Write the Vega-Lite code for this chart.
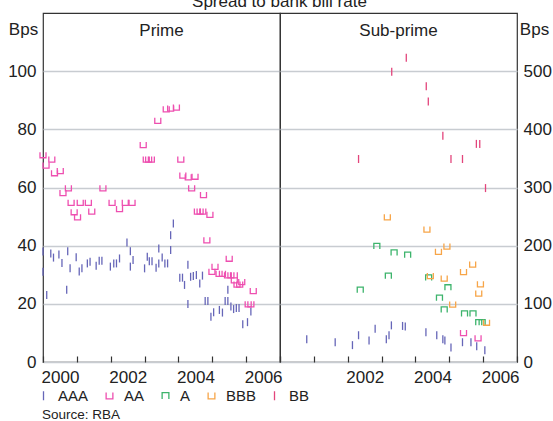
{
 "$schema": "https://vega.github.io/schema/vega-lite/v6.json",
 "padding": {"left": 7, "top": -7, "right": 1, "bottom": 0},
 "config": {
  "font": "Liberation Sans",
  "view": {"stroke": "#333333", "strokeWidth": 1.2},
  "axis": {"labelFont": "Liberation Sans", "labelFontSize": 17, "labelColor": "#222222", "titleFont": "Liberation Sans", "titleFontSize": 17, "titleFontWeight": "normal", "titleColor": "#222222", "gridColor": "#c8ccd1", "gridWidth": 1.5, "domain": false},
  "title": {"font": "Liberation Sans", "fontSize": 17, "fontWeight": "normal", "color": "#222222"},
  "legend": {"orient": "bottom", "direction": "horizontal", "title": null, "labelFont": "Liberation Sans", "labelFontSize": 15, "labelColor": "#222222", "symbolSize": 81, "symbolStrokeWidth": 1.3, "columnPadding": 14, "labelOffset": 7, "symbolOffset": -7, "offset": 2, "padding": 0},
  "concat": {"spacing": 0}
 },
 "title": {"text": "Source: RBA", "orient": "bottom", "anchor": "start", "frame": "bounds", "dx": 35, "fontSize": 13.5, "offset": 4},
 "vconcat": [{
  "title": {"text": "Spread to bank bill rate", "anchor": "middle", "frame": "bounds", "offset": 1},
  "spacing": 0,
  "bounds": "flush",
  "hconcat": [
   {
    "width": 237, "height": 349,
    "title": {"text": "Prime", "frame": "group", "anchor": "middle", "baseline": "alphabetic", "offset": 0, "dy": 40},
    "data": {"name": "prime"},
    "mark": {"type": "point", "filled": false, "strokeWidth": 1.3, "size": 64, "opacity": 1},
    "encoding": {
     "x": {"field": "t", "type": "quantitative", "scale": {"domain": [2000, 2007], "nice": false, "zero": false},
       "axis": {"values": [2000, 2001, 2002, 2003, 2004, 2005, 2006, 2007], "tickSize": -6, "tickColor": "#333333", "tickWidth": 1.2, "labelPadding": 13, "labelOffset": 17, "labelFlush": false, "labelOverlap": false, "labelExpr": "datum.value % 2 == 0 && datum.value < 2007 ? format(datum.value, 'd') : ''", "grid": false, "title": null}},
     "y": {"field": "v", "type": "quantitative", "scale": {"domain": [0, 120], "nice": false},
       "axis": {"values": [0, 20, 40, 60, 80, 100], "ticks": false, "labelPadding": 7, "title": "Bps", "titleAngle": 0, "titleX": -20, "titleY": 21, "titleAlign": "center", "titleBaseline": "alphabetic", "grid": true}},
     "color": {"field": "r", "type": "nominal", "scale": {"domain": ["AAA", "AA", "A", "BBB", "BB"], "range": ["#6666b8", "#ee4fb0", "#3db46c", "#f7a548", "#e3457c"]}},
     "shape": {"field": "r", "type": "nominal", "scale": {"domain": ["AAA", "AA", "A", "BBB", "BB"], "range": ["M0,-1L0,1", "M-0.75,-0.7L-0.75,0.7L0.75,0.7L0.75,-0.7", "M-0.75,0.7L-0.75,-0.7L0.75,-0.7L0.75,0.7", "M-0.75,-0.7L-0.75,0.7L0.75,0.7L0.75,-0.7", "M0,-1L0,1"]}}
    }
   },
   {
    "width": 237, "height": 349,
    "title": {"text": "Sub-prime", "frame": "group", "anchor": "middle", "baseline": "alphabetic", "offset": 0, "dy": 40},
    "data": {"name": "subprime"},
    "mark": {"type": "point", "filled": false, "strokeWidth": 1.3, "size": 64, "opacity": 1},
    "encoding": {
     "x": {"field": "t", "type": "quantitative", "scale": {"domain": [2000, 2007], "nice": false, "zero": false},
       "axis": {"values": [2000, 2001, 2002, 2003, 2004, 2005, 2006, 2007], "tickSize": -6, "tickColor": "#333333", "tickWidth": 1.2, "labelPadding": 13, "labelOffset": 17, "labelFlush": false, "labelOverlap": false, "labelExpr": "datum.value % 2 == 0 && datum.value > 2000 && datum.value < 2007 ? format(datum.value, 'd') : ''", "grid": false, "title": null}},
     "y": {"field": "v", "type": "quantitative", "scale": {"domain": [0, 600], "nice": false},
       "axis": {"orient": "right", "values": [0, 100, 200, 300, 400, 500], "ticks": false, "labelPadding": 6, "title": "Bps", "titleAngle": 0, "titleX": 17, "titleY": 21, "titleAlign": "center", "titleBaseline": "alphabetic", "grid": true}},
     "color": {"field": "r", "type": "nominal", "scale": {"domain": ["AAA", "AA", "A", "BBB", "BB"], "range": ["#6666b8", "#ee4fb0", "#3db46c", "#f7a548", "#e3457c"]}},
     "shape": {"field": "r", "type": "nominal", "scale": {"domain": ["AAA", "AA", "A", "BBB", "BB"], "range": ["M0,-1L0,1", "M-0.75,-0.7L-0.75,0.7L0.75,0.7L0.75,-0.7", "M-0.75,0.7L-0.75,-0.7L0.75,-0.7L0.75,0.7", "M-0.75,-0.7L-0.75,0.7L0.75,0.7L0.75,-0.7", "M0,-1L0,1"]}}
    }
   }
  ]
 }],
 "datasets": {
  "prime": [
   {"r":"AAA","t":2000.0,"v":31},{"r":"AAA","t":2000.0,"v":38},{"r":"AAA","t":2000.11,"v":23},{"r":"AAA","t":2000.23,"v":37.3},{"r":"AAA","t":2000.31,"v":35.9},{"r":"AAA","t":2000.47,"v":37},{"r":"AAA","t":2000.56,"v":34},{"r":"AAA","t":2000.7,"v":24.8},{"r":"AAA","t":2000.73,"v":38.1},{"r":"AAA","t":2000.8,"v":32.2},{"r":"AAA","t":2000.98,"v":36},
   {"r":"AAA","t":2001.07,"v":31.1},{"r":"AAA","t":2001.15,"v":32.2},{"r":"AAA","t":2001.31,"v":33.9},{"r":"AAA","t":2001.39,"v":34.5},{"r":"AAA","t":2001.57,"v":33.1},{"r":"AAA","t":2001.66,"v":34.8},{"r":"AAA","t":2001.74,"v":34.8},{"r":"AAA","t":2001.99,"v":32.8},
   {"r":"AAA","t":2002.09,"v":33.9},{"r":"AAA","t":2002.17,"v":33.9},{"r":"AAA","t":2002.26,"v":35.6},{"r":"AAA","t":2002.48,"v":41.1},{"r":"AAA","t":2002.58,"v":38.1},{"r":"AAA","t":2002.58,"v":32.8},{"r":"AAA","t":2002.66,"v":35.1},
   {"r":"AAA","t":2003.0,"v":32.2},{"r":"AAA","t":2003.08,"v":36.2},{"r":"AAA","t":2003.14,"v":34.6},{"r":"AAA","t":2003.22,"v":34.6},{"r":"AAA","t":2003.34,"v":32.4},{"r":"AAA","t":2003.42,"v":33.9},{"r":"AAA","t":2003.42,"v":39},{"r":"AAA","t":2003.52,"v":35.9},{"r":"AAA","t":2003.6,"v":33.9},{"r":"AAA","t":2003.68,"v":33.9},{"r":"AAA","t":2003.77,"v":38.5},{"r":"AAA","t":2003.77,"v":43.6},{"r":"AAA","t":2003.85,"v":47.6},
   {"r":"AAA","t":2004.04,"v":29},{"r":"AAA","t":2004.12,"v":29},{"r":"AAA","t":2004.18,"v":26.5},{"r":"AAA","t":2004.28,"v":33.4},{"r":"AAA","t":2004.28,"v":19.9},{"r":"AAA","t":2004.36,"v":29.3},{"r":"AAA","t":2004.44,"v":29.6},{"r":"AAA","t":2004.53,"v":29.9},{"r":"AAA","t":2004.63,"v":27},{"r":"AAA","t":2004.71,"v":29.7},{"r":"AAA","t":2004.79,"v":21},{"r":"AAA","t":2004.87,"v":21},{"r":"AAA","t":2004.96,"v":15.6},
   {"r":"AAA","t":2005.04,"v":17.1},{"r":"AAA","t":2005.21,"v":17.9},{"r":"AAA","t":2005.3,"v":17},{"r":"AAA","t":2005.38,"v":21},{"r":"AAA","t":2005.46,"v":21},{"r":"AAA","t":2005.46,"v":24.8},{"r":"AAA","t":2005.55,"v":19.1},{"r":"AAA","t":2005.63,"v":18.2},{"r":"AAA","t":2005.71,"v":18.6},{"r":"AAA","t":2005.79,"v":18.6},{"r":"AAA","t":2005.9,"v":13},{"r":"AAA","t":2006.04,"v":13.7},{"r":"AAA","t":2006.14,"v":17.4},
   {"r":"AA","t":2000.0,"v":71.2},{"r":"AA","t":2000.09,"v":67.6},{"r":"AA","t":2000.26,"v":69.7},{"r":"AA","t":2000.34,"v":65},{"r":"AA","t":2000.51,"v":65.7},{"r":"AA","t":2000.59,"v":58.2},{"r":"AA","t":2000.75,"v":59.8},{"r":"AA","t":2000.83,"v":54.8},{"r":"AA","t":2000.92,"v":51.6},
   {"r":"AA","t":2001.02,"v":49.8},{"r":"AA","t":2001.1,"v":54.8},{"r":"AA","t":2001.34,"v":54.8},{"r":"AA","t":2001.44,"v":51.8},{"r":"AA","t":2001.77,"v":59.8},
   {"r":"AA","t":2002.04,"v":54.8},{"r":"AA","t":2002.26,"v":52.7},{"r":"AA","t":2002.43,"v":54.8},{"r":"AA","t":2002.63,"v":54.8},{"r":"AA","t":2002.96,"v":74.7},
   {"r":"AA","t":2003.05,"v":69.7},{"r":"AA","t":2003.12,"v":69.7},{"r":"AA","t":2003.2,"v":69.7},{"r":"AA","t":2003.39,"v":83},{"r":"AA","t":2003.64,"v":87},{"r":"AA","t":2003.77,"v":87.2},{"r":"AA","t":2003.94,"v":87.6},
   {"r":"AA","t":2004.07,"v":69.7},{"r":"AA","t":2004.13,"v":64.2},{"r":"AA","t":2004.29,"v":63.6},{"r":"AA","t":2004.49,"v":63.8},{"r":"AA","t":2004.39,"v":59.8},{"r":"AA","t":2004.74,"v":57.5},{"r":"AA","t":2004.56,"v":51.8},{"r":"AA","t":2004.64,"v":51.8},{"r":"AA","t":2004.72,"v":51.8},{"r":"AA","t":2004.93,"v":50.7},{"r":"AA","t":2004.84,"v":41.9},{"r":"AA","t":2004.99,"v":31.1},
   {"r":"AA","t":2005.08,"v":32.8},{"r":"AA","t":2005.2,"v":30.4},{"r":"AA","t":2005.3,"v":30.4},{"r":"AA","t":2005.45,"v":29.9},{"r":"AA","t":2005.5,"v":35.6},{"r":"AA","t":2005.55,"v":29.9},{"r":"AA","t":2005.65,"v":29.9},{"r":"AA","t":2005.65,"v":28.2},{"r":"AA","t":2005.73,"v":26.7},{"r":"AA","t":2005.81,"v":26.7},{"r":"AA","t":2005.87,"v":27.6},
   {"r":"AA","t":2006.06,"v":19.9},{"r":"AA","t":2006.14,"v":19.9},{"r":"AA","t":2006.21,"v":24.5}
  ],
  "subprime": [
   {"r":"AAA","t":2000.79,"v":39},{"r":"AAA","t":2001.63,"v":34},{"r":"AAA","t":2002.14,"v":29},{"r":"AAA","t":2002.32,"v":46},{"r":"AAA","t":2002.63,"v":37},{"r":"AAA","t":2002.81,"v":57},{"r":"AAA","t":2003.14,"v":39},{"r":"AAA","t":2003.22,"v":46},{"r":"AAA","t":2003.29,"v":63},{"r":"AAA","t":2003.62,"v":62},{"r":"AAA","t":2003.7,"v":61},{"r":"AAA","t":2004.31,"v":51},{"r":"AAA","t":2004.63,"v":46},{"r":"AAA","t":2004.81,"v":39},{"r":"AAA","t":2004.87,"v":37},{"r":"AAA","t":2005.05,"v":25},{"r":"AAA","t":2005.39,"v":34},{"r":"AAA","t":2005.64,"v":34},{"r":"AAA","t":2005.81,"v":27},{"r":"AAA","t":2006.05,"v":20},
   {"r":"AA","t":2005.42,"v":50},{"r":"AA","t":2005.85,"v":41},
   {"r":"A","t":2002.86,"v":199},{"r":"A","t":2003.37,"v":188},{"r":"A","t":2003.77,"v":184},{"r":"A","t":2003.2,"v":148},{"r":"A","t":2002.37,"v":124},{"r":"A","t":2004.39,"v":145},{"r":"A","t":2004.96,"v":128},{"r":"A","t":2004.71,"v":110},{"r":"A","t":2004.85,"v":90},{"r":"A","t":2005.45,"v":83},{"r":"A","t":2005.7,"v":83},{"r":"A","t":2005.87,"v":68},{"r":"A","t":2005.97,"v":68},
   {"r":"BBB","t":2003.17,"v":249},{"r":"BBB","t":2004.34,"v":228},{"r":"BBB","t":2004.93,"v":199},{"r":"BBB","t":2004.68,"v":190},{"r":"BBB","t":2005.69,"v":168},{"r":"BBB","t":2005.42,"v":155},{"r":"BBB","t":2004.44,"v":148},{"r":"BBB","t":2004.85,"v":144},{"r":"BBB","t":2005.92,"v":134},{"r":"BBB","t":2005.87,"v":118},{"r":"BBB","t":2005.1,"v":99},{"r":"BBB","t":2006.1,"v":68},
   {"r":"BB","t":2003.73,"v":523},{"r":"BB","t":2003.3,"v":499},{"r":"BB","t":2004.32,"v":474},{"r":"BB","t":2004.38,"v":448},{"r":"BB","t":2004.81,"v":389},{"r":"BB","t":2005.8,"v":375},{"r":"BB","t":2005.9,"v":375},{"r":"BB","t":2002.32,"v":349},{"r":"BB","t":2005.05,"v":349},{"r":"BB","t":2005.39,"v":349},{"r":"BB","t":2006.07,"v":299}
  ]
 }
}
